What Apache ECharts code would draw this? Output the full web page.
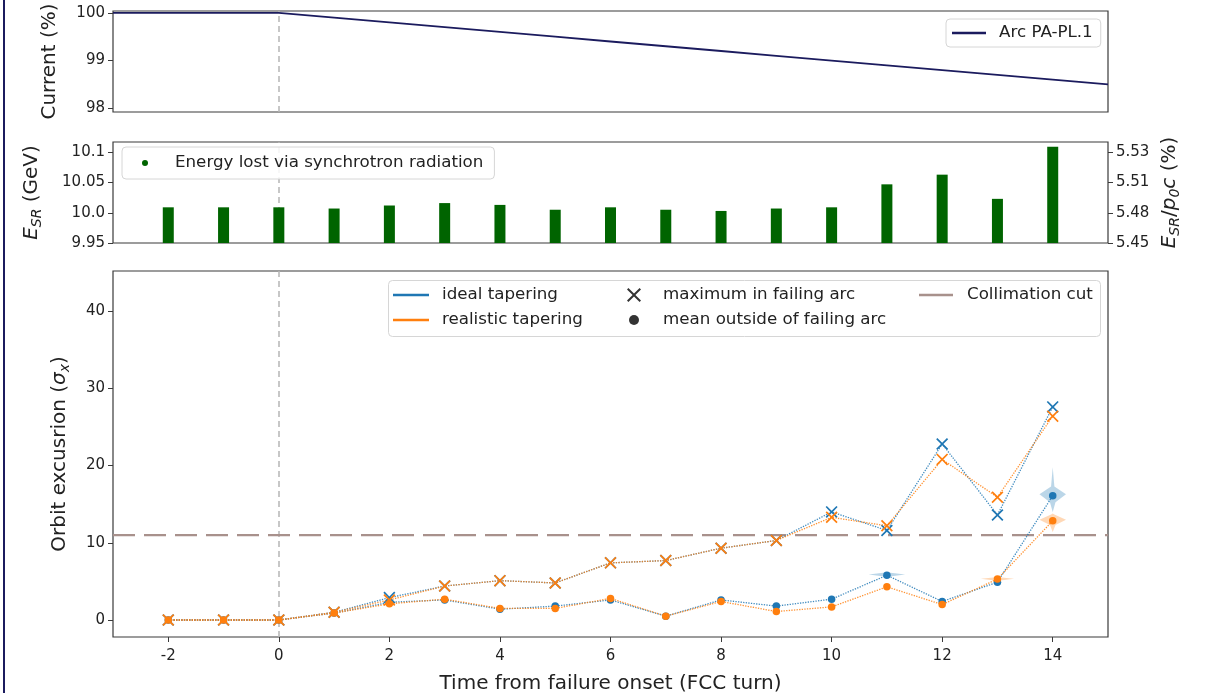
<!DOCTYPE html>
<html>
<head>
<meta charset="utf-8">
<script src="https://cdn.jsdelivr.net/npm/echarts@6/dist/echarts.min.js"></script>
<style>
html,body{margin:0;padding:0;background:#fff;}
#chart{width:1207px;height:693px;}
</style>
</head>
<body>
<div id="chart"></div>
<script>
// ---------------- data ----------------
const xTicks = [-2, 0, 2, 4, 6, 8, 10, 12, 14];
const xRange = [-3, 15];
const onsetTurn = 0;

// top panel: beam current (%)
const currentTurns = [-3, -2, -1, 0, 1, 2, 3, 4, 5, 6, 7, 8, 9, 10, 11, 12, 13, 14, 15];
const currentVals  = [100, 100, 100, 100, 99.9, 99.8, 99.7, 99.6, 99.5, 99.4, 99.3, 99.2, 99.1, 99.0, 98.9, 98.8, 98.7, 98.6, 98.5];
const currentTicks = [98, 99, 100];

// middle panel: energy lost via synchrotron radiation (GeV)
const turns = [-2, -1, 0, 1, 2, 3, 4, 5, 6, 7, 8, 9, 10, 11, 12, 13, 14];
const esrVals = [10.009, 10.009, 10.009, 10.007, 10.012, 10.016, 10.013, 10.005, 10.009, 10.005, 10.003, 10.007, 10.009, 10.047, 10.063, 10.023, 10.109];
const esrTicks = [9.95, 10.0, 10.05, 10.1];
const esrTickLabels = ['9.95', '10.0', '10.05', '10.1'];
const esrRelTickLabels = ['5.45', '5.48', '5.51', '5.53'];

// bottom panel: orbit excursion (sigma_x)
const idealMax  = [0, 0, 0, 1.0, 2.9, 4.4, 5.1, 4.8, 7.4, 7.7, 9.3, 10.3, 14.0, 11.6, 22.8, 13.6, 27.6];
const realMax   = [0, 0, 0, 1.0, 2.6, 4.4, 5.1, 4.8, 7.4, 7.7, 9.3, 10.3, 13.3, 12.2, 20.8, 15.9, 26.4];
const idealMean = [0, 0, 0, 0.9, 2.3, 2.6, 1.4, 1.8, 2.6, 0.5, 2.6, 1.8, 2.7, 5.8, 2.4, 4.9, 16.1];
const realMean  = [0, 0, 0, 0.9, 2.1, 2.7, 1.5, 1.5, 2.8, 0.5, 2.4, 1.1, 1.7, 4.3, 2.0, 5.3, 12.85];
const orbitTicks = [0, 10, 20, 30, 40];
const collimationCut = 11;
// spread of the mean outside the failing arc: [turn, centre, low, high, halfWidth(turns), halfHeight]
const spreadIdeal = [[11, 5.85, 5.5, 6.2, 0.33, 0.3], [14, 16.1, 14.0, 19.8, 0.24, 1.2]];
const spreadReal  = [[13, 5.3, 5.0, 5.6, 0.3, 0.25], [14, 12.85, 11.4, 13.8, 0.24, 0.8]];

// ---------------- styles ----------------
const FONT = 'DejaVu Sans';
const TXT = '#222';
const FRAME = '#3a3a3a';
const BLUE = '#1f77b4';
const ORANGE = '#ff7f0e';
const GREEN = '#006400';
const NAVY = '#1b1b5e';
const BROWN = '#a8918c';
const CROSS = 'path://M1,0L5,4L9,0L10,1L6,5L10,9L9,10L5,6L1,10L0,9L4,5L0,1Z';
const NAME_FS = 20;
const LEG_FS = 16.7;

const pairs = (xs, ys) => xs.map((x, i) => [x, ys[i]]);
const pickLabel = (ticks, labels) => (v) => {
  for (let i = 0; i < ticks.length; i++) if (Math.abs(ticks[i] - v) < 1e-6) return labels[i];
  return '';
};

const gridBase = {left: 113, width: 995, show: true, borderColor: FRAME, borderWidth: 1.2, backgroundColor: '#fff',
                  containLabel: false, outerBoundsMode: 'none'};
const tickLbl = {color: TXT, fontFamily: FONT, fontSize: 15};
const richName = {
  it: {fontStyle: 'italic', fontSize: NAME_FS, lineHeight: 24, verticalAlign: 'middle', fontFamily: FONT, color: TXT},
  n: {fontSize: NAME_FS, lineHeight: 24, verticalAlign: 'middle', fontFamily: FONT, color: TXT},
  sub: {fontStyle: 'italic', fontSize: 14, lineHeight: 24, verticalAlign: 'bottom', fontFamily: FONT, color: TXT}
};

function xAx(gridIndex, showLabels, name) {
  return {
    type: 'value', gridIndex, min: xRange[0], max: xRange[1],
    axisLine: {show: false, onZero: false}, splitLine: {show: false},
    axisTick: {show: showLabels, length: 5, lineStyle: {color: FRAME}, customValues: xTicks},
    axisLabel: Object.assign({show: showLabels, margin: 12, customValues: xTicks}, tickLbl),
    name: name || '', nameLocation: 'middle', nameGap: 37, nameMoveOverlap: false,
    nameTextStyle: {color: TXT, fontFamily: FONT, fontSize: NAME_FS}
  };
}
function yAx(gridIndex, min, max, ticks, labels, name, gap, position) {
  const lbl = Object.assign({margin: 8, customValues: ticks}, tickLbl);
  if (labels) lbl.formatter = pickLabel(ticks, labels);
  return {
    type: 'value', gridIndex, min, max, position: position || 'left',
    axisLine: {show: false, onZero: false}, splitLine: {show: false},
    axisTick: {show: true, length: 5, lineStyle: {color: FRAME}, customValues: ticks},
    axisLabel: lbl,
    name, nameLocation: 'middle', nameRotate: 90, nameGap: gap, nameMoveOverlap: false,
    nameTextStyle: {color: TXT, fontFamily: FONT, fontSize: NAME_FS, rich: richName}
  };
}

const vDash = () => ({
  silent: true, symbol: 'none', label: {show: false}, animation: false, z: 1,
  lineStyle: {color: '#b5b5b5', type: [6, 4], width: 1.5},
  data: [{xAxis: onsetTurn}]
});

const violin = (color) => (params, api) => {
  const t = api.value(0), c = api.value(1), lo = api.value(2), hi = api.value(3), hw = api.value(4), hh = api.value(5);
  const P = (x, y) => api.coord([x, y]);
  const pts = [P(t, hi), P(t + 0.03, c + hh), P(t + hw, c + hh * 0.15), P(t + 0.05, c - hh * 0.7), P(t, lo),
               P(t - 0.05, c - hh * 0.7), P(t - hw, c + hh * 0.15), P(t - 0.03, c + hh)];
  return {type: 'polygon', shape: {points: pts}, style: {fill: color, opacity: 0.3}};
};

const legText = (padLeft) => ({color: TXT, fontFamily: FONT, fontSize: LEG_FS, lineHeight: 20, padding: [0, 0, 0, padLeft]});
const plainLegend = (name, icon, left, top, w, h, padLeft) => ({
  data: [{name, icon}], left, top, itemWidth: w, itemHeight: h, padding: 0,
  itemStyle: {borderWidth: 0}, textStyle: legText(padLeft), selectedMode: false, z: 8
});

const option = {
  animation: false,
  backgroundColor: '#fff',
  textStyle: {fontFamily: FONT},
  grid: [
    Object.assign({top: 11, height: 101}, gridBase),
    Object.assign({top: 142, height: 101}, gridBase),
    Object.assign({top: 271, height: 366}, gridBase)
  ],
  xAxis: [xAx(0, false), xAx(1, false), xAx(2, true, 'Time from failure onset (FCC turn)')],
  yAxis: [
    yAx(0, 97.92, 100.04, currentTicks, null, 'Current (%)', 53),
    yAx(1, 9.95, 10.117, esrTicks, esrTickLabels, '{it|E}{sub|SR} (GeV)', 69),
    yAx(1, 9.95, 10.117, esrTicks, esrRelTickLabels, '{it|E}{sub|SR}{n|/}{it|p}{sub|0}{it|c} (%)', 50, 'right'),
    yAx(2, -2.2, 45.2, orbitTicks, null, 'Orbit excusrion ({it|σ}{sub|x})', 41)
  ],
  legend: [
    {
      data: [{name: 'Arc PA-PL.1', icon: 'rect'}],
      left: 946, top: 19, itemWidth: 34, itemHeight: 2.5, padding: [4, 8, 4, 6],
      borderColor: '#d6d6d6', borderWidth: 1, borderRadius: 4, backgroundColor: 'rgba(255,255,255,0.85)',
      itemStyle: {borderWidth: 0}, textStyle: legText(8), selectedMode: false
    },
    {
      data: [{name: 'Energy lost via synchrotron radiation', icon: 'circle'}],
      left: 122, top: 147, itemWidth: 6, itemHeight: 6, padding: [6, 11, 6, 20],
      borderColor: '#d6d6d6', borderWidth: 1, borderRadius: 4, backgroundColor: 'rgba(255,255,255,0.85)',
      itemStyle: {borderWidth: 0}, textStyle: legText(22), selectedMode: false
    },
    plainLegend('ideal tapering', 'rect', 393, 285, 36, 2.5, 8),
    plainLegend('realistic tapering', 'rect', 393, 310, 36, 2.5, 8),
    plainLegend('maximum in failing arc', CROSS, 627, 285, 14, 14, 17),
    plainLegend('mean outside of failing arc', 'circle', 629, 310, 10, 10, 19),
    plainLegend('Collimation cut', 'rect', 919, 285, 34, 2.5, 9)
  ],
  graphic: [
    {type: 'rect', left: 3, top: 0, shape: {width: 2, height: 693}, style: {fill: NAVY}, z: 100},
    {type: 'rect', left: 388, top: 280, shape: {width: 712, height: 56, r: 4},
     style: {fill: 'rgba(255,255,255,0.85)', stroke: '#d6d6d6', lineWidth: 1}, z: 3}
  ],
  series: [
    {
      name: 'Arc PA-PL.1', type: 'line', xAxisIndex: 0, yAxisIndex: 0,
      data: pairs(currentTurns, currentVals), showSymbol: false, symbol: 'none',
      lineStyle: {color: NAVY, width: 1.8}, itemStyle: {color: NAVY},
      markLine: vDash()
    },
    {
      name: 'Energy lost via synchrotron radiation', type: 'bar', xAxisIndex: 1, yAxisIndex: 1,
      data: pairs(turns, esrVals), barWidth: 11, clip: true,
      itemStyle: {color: GREEN},
      markLine: vDash()
    },
    {type: 'custom', xAxisIndex: 2, yAxisIndex: 3, data: spreadIdeal, renderItem: violin(BLUE), silent: true, z: 1},
    {type: 'custom', xAxisIndex: 2, yAxisIndex: 3, data: spreadReal, renderItem: violin(ORANGE), silent: true, z: 1},
    {
      name: 'Collimation cut', type: 'line', xAxisIndex: 2, yAxisIndex: 3,
      data: [[xRange[0], collimationCut], [xRange[1], collimationCut]], symbol: 'none',
      lineStyle: {color: BROWN, width: 2.4, type: [22, 9]}, itemStyle: {color: BROWN}, z: 2,
      markLine: vDash()
    },
    {
      name: 'ideal max', type: 'line', xAxisIndex: 2, yAxisIndex: 3, data: pairs(turns, idealMax),
      symbol: CROSS, symbolSize: 12, showAllSymbol: true,
      lineStyle: {color: BLUE, width: 1.3, type: 'dotted', opacity: 0.85}, itemStyle: {color: BLUE}, z: 3
    },
    {
      name: 'ideal mean', type: 'line', xAxisIndex: 2, yAxisIndex: 3, data: pairs(turns, idealMean),
      symbol: 'circle', symbolSize: 7.5, showAllSymbol: true,
      lineStyle: {color: BLUE, width: 1.3, type: 'dotted', opacity: 0.85}, itemStyle: {color: BLUE}, z: 3
    },
    {
      name: 'realistic max', type: 'line', xAxisIndex: 2, yAxisIndex: 3, data: pairs(turns, realMax),
      symbol: CROSS, symbolSize: 12, showAllSymbol: true,
      lineStyle: {color: ORANGE, width: 1.3, type: 'dotted', opacity: 0.85}, itemStyle: {color: ORANGE}, z: 4
    },
    {
      name: 'realistic mean', type: 'line', xAxisIndex: 2, yAxisIndex: 3, data: pairs(turns, realMean),
      symbol: 'circle', symbolSize: 7.5, showAllSymbol: true,
      lineStyle: {color: ORANGE, width: 1.3, type: 'dotted', opacity: 0.85}, itemStyle: {color: ORANGE}, z: 4
    },
    // legend-only entries
    {name: 'ideal tapering', type: 'line', xAxisIndex: 2, yAxisIndex: 3, data: [], itemStyle: {color: BLUE}, lineStyle: {color: BLUE}},
    {name: 'realistic tapering', type: 'line', xAxisIndex: 2, yAxisIndex: 3, data: [], itemStyle: {color: ORANGE}, lineStyle: {color: ORANGE}},
    {name: 'maximum in failing arc', type: 'scatter', xAxisIndex: 2, yAxisIndex: 3, data: [], itemStyle: {color: '#000'}},
    {name: 'mean outside of failing arc', type: 'scatter', xAxisIndex: 2, yAxisIndex: 3, data: [], itemStyle: {color: '#000'}}
  ]
};

const chart = echarts.init(document.getElementById('chart'), null, {renderer: 'canvas'});
chart.setOption(option);
</script>
</body>
</html>
